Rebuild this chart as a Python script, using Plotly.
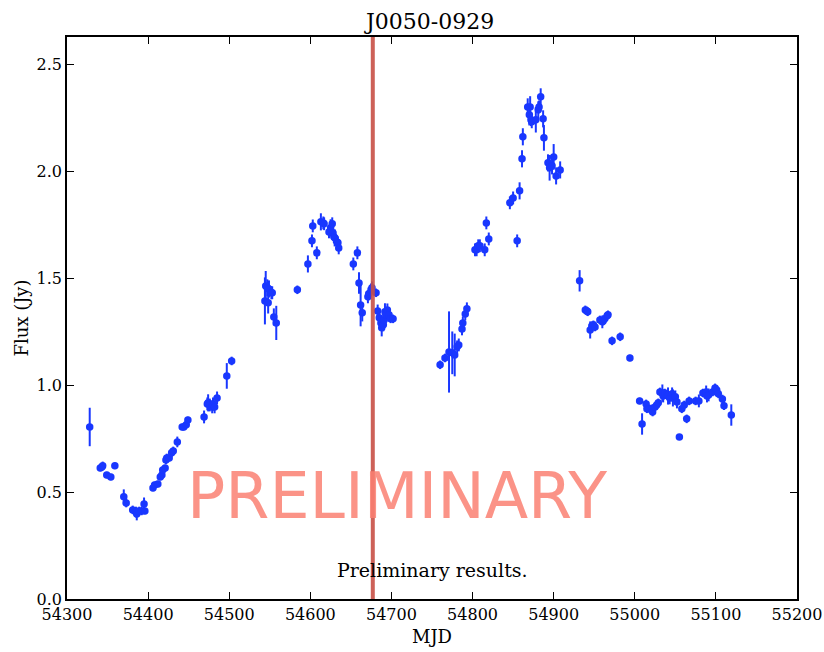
import plotly.graph_objects as go

mjd = [54328, 54341, 54343, 54344, 54349, 54354, 54359, 54370, 54373, 54381, 54385, 54386, 54389, 54392, 54395, 54396,
       54406, 54408, 54412, 54415, 54417, 54418, 54421, 54422, 54423, 54426, 54429, 54431, 54436, 54442, 54444, 54447, 54449,
       54469, 54473, 54474, 54476, 54479, 54480, 54482, 54485, 54497, 54503,
       54544, 54545, 54547, 54548, 54549, 54552, 54553, 54555, 54558, 54584, 54597, 54602, 54603, 54608, 54613, 54616, 54617,
       54623, 54625, 54627, 54628, 54629, 54630, 54633, 54634, 54635, 54653, 54658, 54660, 54662, 54664, 54671, 54672, 54675,
       54676, 54681, 54683, 54685, 54687, 54688, 54690, 54691, 54692, 54693, 54695, 54697, 54699, 54702,
       54760, 54766, 54771, 54775, 54778, 54781, 54783, 54787, 54788, 54791, 54793, 54803, 54805, 54807, 54809, 54815, 54817,
       54820, 54846, 54850, 54855, 54858, 54861, 54862, 54868, 54870, 54871, 54872, 54873, 54878, 54881, 54882, 54884, 54887,
       54888, 54893, 54895, 54898, 54900, 54903, 54908,
       54932, 54939, 54941, 54942, 54945, 54947, 54949, 54951, 54957, 54960, 54961, 54963, 54966, 54967, 54972, 54982, 54994,
       55006, 55009, 55014, 55015, 55018, 55021, 55022, 55025, 55027, 55029, 55031, 55034, 55035, 55037, 55040, 55041, 55043,
       55046, 55047, 55050, 55052, 55055, 55058, 55061, 55064, 55067, 55075, 55079, 55084, 55088, 55089, 55091, 55096, 55099,
       55101, 55103, 55108, 55110, 55119]

flux = [0.805, 0.613, 0.618, 0.623, 0.580, 0.571, 0.623, 0.478, 0.449, 0.417, 0.407, 0.398, 0.412, 0.412, 0.445, 0.412,
        0.520, 0.534, 0.538, 0.571, 0.580, 0.604, 0.613, 0.651, 0.660, 0.660, 0.684, 0.693, 0.735, 0.805, 0.805, 0.815, 0.838,
        0.852, 0.913, 0.918, 0.908, 0.899, 0.913, 0.899, 0.941, 1.044, 1.114,
        1.395, 1.465, 1.456, 1.386, 1.451, 1.433, 1.433, 1.320, 1.292, 1.447, 1.568, 1.676, 1.746, 1.620, 1.765, 1.760, 1.756,
        1.718, 1.737, 1.756, 1.713, 1.695, 1.690, 1.671, 1.667, 1.643, 1.568, 1.620, 1.479, 1.376, 1.339, 1.414, 1.428, 1.447,
        1.456, 1.433, 1.348, 1.316, 1.292, 1.269, 1.283, 1.306, 1.344, 1.330, 1.353, 1.330, 1.311, 1.311,
        1.096, 1.128, 1.156, 1.152, 1.142, 1.180, 1.189, 1.264, 1.292, 1.334, 1.358, 1.634, 1.634, 1.653, 1.653, 1.634, 1.760,
        1.685, 1.854, 1.877, 1.676, 1.910, 2.060, 2.163, 2.303, 2.266, 2.303, 2.243, 2.233, 2.243, 2.289, 2.303, 2.350, 2.247,
        2.158, 2.041, 2.018, 2.027, 2.069, 1.980, 2.008,
        1.489, 1.353, 1.348, 1.344, 1.259, 1.278, 1.283, 1.273, 1.306, 1.297, 1.301, 1.311, 1.325, 1.330, 1.208, 1.227, 1.128,
        0.927, 0.819, 0.913, 0.890, 0.890, 0.890, 0.875, 0.899, 0.908, 0.918, 0.969, 0.964, 0.950, 0.964, 0.955, 0.950, 0.941,
        0.960, 0.941, 0.946, 0.922, 0.758, 0.890, 0.908, 0.843, 0.927, 0.927, 0.927, 0.964, 0.969, 0.950, 0.955, 0.969, 0.988,
        0.978, 0.960, 0.936, 0.904, 0.861]

err = [0.090, 0.015, 0.015, 0.020, 0.015, 0.015, 0.015, 0.035, 0.020, 0.020, 0.025, 0.030, 0.020, 0.020, 0.030, 0.015,
       0.015, 0.015, 0.015, 0.015, 0.020, 0.015, 0.015, 0.020, 0.020, 0.015, 0.020, 0.020, 0.025, 0.015, 0.015, 0.015, 0.015,
       0.030, 0.030, 0.040, 0.030, 0.030, 0.030, 0.030, 0.030, 0.060, 0.020,
       0.110, 0.070, 0.040, 0.050, 0.040, 0.030, 0.030, 0.040, 0.080, 0.020, 0.040, 0.030, 0.030, 0.030, 0.040, 0.030, 0.030,
       0.030, 0.040, 0.030, 0.030, 0.030, 0.040, 0.030, 0.030, 0.030, 0.030, 0.030, 0.050, 0.100, 0.040, 0.030, 0.030, 0.030,
       0.030, 0.020, 0.030, 0.030, 0.030, 0.040, 0.030, 0.030, 0.040, 0.030, 0.030, 0.030, 0.020, 0.020,
       0.020, 0.020, 0.190, 0.100, 0.100, 0.030, 0.030, 0.030, 0.030, 0.030, 0.030, 0.030, 0.030, 0.030, 0.030, 0.030, 0.030,
       0.030, 0.030, 0.030, 0.030, 0.040, 0.040, 0.040, 0.040, 0.050, 0.050, 0.030, 0.030, 0.060, 0.040, 0.030, 0.040, 0.040,
       0.060, 0.040, 0.060, 0.040, 0.060, 0.040, 0.040,
       0.050, 0.020, 0.020, 0.020, 0.040, 0.020, 0.020, 0.020, 0.020, 0.030, 0.020, 0.020, 0.020, 0.020, 0.020, 0.020, 0.015,
       0.015, 0.050, 0.020, 0.020, 0.020, 0.020, 0.020, 0.020, 0.020, 0.020, 0.020, 0.040, 0.030, 0.020, 0.020, 0.040, 0.030,
       0.030, 0.040, 0.030, 0.030, 0.010, 0.020, 0.020, 0.020, 0.020, 0.020, 0.030, 0.020, 0.030, 0.030, 0.030, 0.020, 0.020,
       0.020, 0.020, 0.020, 0.020, 0.050]

title = "J0050-0929"
x_label = "MJD"
y_label = "Flux (Jy)"
x_ticks = [54300, 54400, 54500, 54600, 54700, 54800, 54900, 55000, 55100, 55200]
y_ticks = [0.0, 0.5, 1.0, 1.5, 2.0, 2.5]
flare_mjd = 54677
watermark = "PRELIMINARY"
note = "Preliminary results."

serif = "DejaVu Serif"
blue = "rgb(25,55,255)"

fig = go.Figure()
fig.add_trace(go.Scatter(
    x=mjd, y=flux, mode="markers",
    error_y=dict(type="data", array=err, visible=True, color=blue, thickness=2, width=0),
    marker=dict(color=blue, size=7.5, line=dict(width=0)),
    showlegend=False, hoverinfo="x+y"))

fig.add_shape(type="line", x0=flare_mjd, x1=flare_mjd, y0=0, y1=1, yref="paper", xref="x",
              line=dict(color="rgba(200,80,70,0.9)", width=4), layer="above")

fig.add_annotation(text=watermark, x=0.452, y=0.183, xref="paper", yref="paper", showarrow=False,
                   font=dict(family="DejaVu Sans", size=63.5, color="rgba(250,128,114,0.85)"),
                   xanchor="center", yanchor="middle")
fig.add_annotation(text=note, x=0.5, y=0.052, xref="paper", yref="paper", showarrow=False,
                   font=dict(family=serif, size=19, color="black"), xanchor="center", yanchor="middle")

axis_common = dict(showline=True, linecolor="black", linewidth=1.5, mirror="ticks", ticks="inside",
                   ticklen=7, tickwidth=1, tickcolor="black", showgrid=False, zeroline=False,
                   automargin=False, tickfont=dict(family=serif, size=16, color="black"))

fig.update_layout(
    width=824, height=652,
    margin=dict(l=67, r=27, t=37, b=53),
    paper_bgcolor="white", plot_bgcolor="white",
    title=dict(text=title, x=0.522, xanchor="center", y=0.968, yanchor="middle",
               font=dict(family=serif, size=22, color="black")),
    xaxis=dict(range=[54300, 55200], tickvals=x_ticks, ticktext=[str(v) for v in x_ticks],
               title=dict(text=x_label, font=dict(family=serif, size=18, color="black"), standoff=7),
               **axis_common),
    yaxis=dict(range=[0, 2.63], tickvals=y_ticks, ticktext=["%.1f" % v for v in y_ticks],
               title=dict(text=y_label, font=dict(family=serif, size=18, color="black"), standoff=3),
               **axis_common),
)

fig.write_html("out.html")
